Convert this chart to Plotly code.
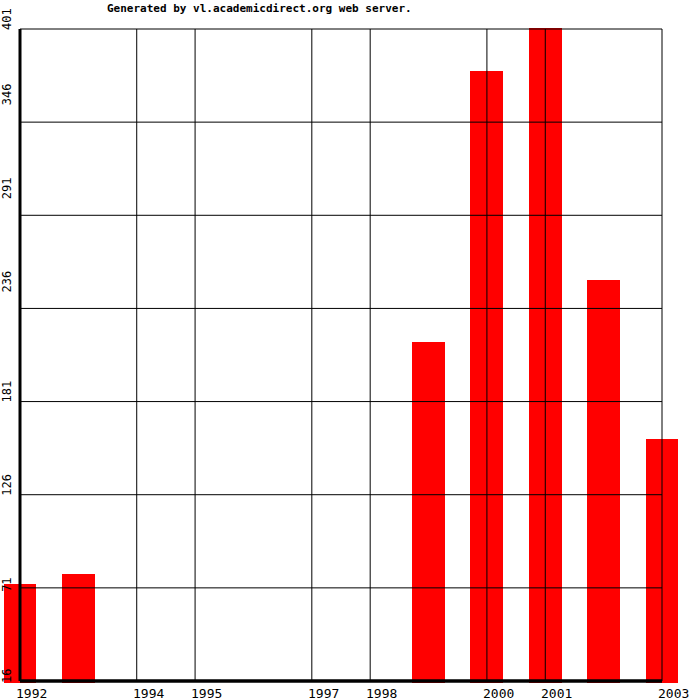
import plotly.graph_objects as go

# ---- data ----
years = [1992, 1993, 1999, 2000, 2001, 2002, 2003]
values = [73, 79, 216, 376, 402, 253, 159]
x_tick_years = [1992, 1994, 1995, 1997, 1998, 2000, 2001, 2003]
y_tick_values = [16, 71, 126, 181, 236, 291, 346, 401]
title_text = "Generated by vl.academicdirect.org web server."

FONT = "DejaVu Sans Mono"
x_lo, x_hi = min(x_tick_years), max(x_tick_years)
y_lo, y_hi = min(y_tick_values), max(y_tick_values)

fig = go.Figure()
fig.add_trace(go.Bar(
    x=years, y=values, width=0.565,
    marker=dict(color="#FF0000", line=dict(width=0)),
    hoverinfo="x+y",
))

shapes = []
# vertical grid lines
for yr in x_tick_years:
    shapes.append(dict(type="line", xref="x", yref="y", x0=yr, x1=yr, y0=y_lo, y1=y_hi,
                       line=dict(color="black", width=1), layer="above"))
# horizontal grid lines
for v in y_tick_values:
    shapes.append(dict(type="line", xref="x", yref="y", x0=x_lo, x1=x_hi, y0=v, y1=v,
                       line=dict(color="black", width=1), layer="above"))
# thick axes
shapes.append(dict(type="line", xref="x", yref="y", x0=x_lo, x1=x_lo, y0=y_lo, y1=y_hi,
                   line=dict(color="black", width=3), layer="above"))
shapes.append(dict(type="line", xref="x", yref="y", x0=x_lo, x1=x_hi, y0=y_lo, y1=y_lo,
                   line=dict(color="black", width=3.5), layer="above"))

annotations = []
for yr in x_tick_years:
    annotations.append(dict(x=yr, y=0, xref="x", yref="paper", text=str(yr), showarrow=False,
                            xanchor="left", yanchor="top", xshift=-6, yshift=-1,
                            font=dict(family=FONT, size=13, color="black")))
label_shift = {16: -2, 71: -4, 126: -1, 181: -1, 236: 16, 291: 16, 346: 17, 401: -1}
for v in y_tick_values:
    annotations.append(dict(x=x_lo, y=v, xref="x", yref="y", text=str(v), showarrow=False,
                            textangle=-90, xanchor="right", yanchor="bottom",
                            xshift=-4, yshift=label_shift.get(v, 0) - 2,
                            font=dict(family=FONT, size=12, color="black")))
annotations.append(dict(x=0.1538, y=1, xref="paper", yref="paper", text="<b>" + title_text + "</b>",
                        showarrow=False, xanchor="left", yanchor="bottom", xshift=-2, yshift=11,
                        font=dict(family=FONT, size=11, color="black")))

px_per_year = (662 - 20) / 11.0
units_per_px = (y_hi - y_lo) / 652.0
fig.update_layout(
    width=700, height=700,
    margin=dict(l=3, r=21, t=28, b=17, pad=0),
    paper_bgcolor="white", plot_bgcolor="white",
    showlegend=False,
    xaxis=dict(range=[x_lo - 17 / px_per_year, x_hi + 17 / px_per_year],
               showgrid=False, zeroline=False, showticklabels=False, showline=False, ticks=""),
    yaxis=dict(range=[y_lo - 2 * units_per_px, y_hi + 1 * units_per_px],
               showgrid=False, zeroline=False, showticklabels=False, showline=False, ticks=""),
    shapes=shapes,
    annotations=annotations,
    bargap=0,
)

fig.write_html("out.html", config={"displayModeBar": False},
               post_script="document.body.style.margin='0';document.body.style.overflow='hidden';")
